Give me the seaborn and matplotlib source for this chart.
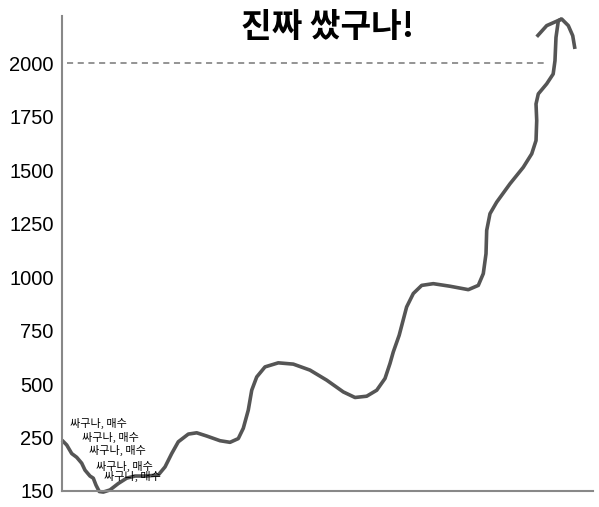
import numpy as np
import pandas as pd
import seaborn as sns
import matplotlib.pyplot as plt

# path of the price line, in drawing order (x = time index, y = price)
path_x = [0, 0.89, 1.83, 2.77, 3.71, 4.33, 5.27, 5.89, 6.40, 7.02, 7.78,
          9.04, 10.6, 12.18, 13.75, 15.95, 18.14, 19.4, 20.66, 21.9, 23.79,
          25.37, 27.25, 29.76, 31.64, 33.2, 34.14, 35.08, 35.73, 36.67, 38.23,
          40.73, 43.56, 46.7, 49.85, 52.98, 55.18, 57.38, 59.27, 60.83, 61.77,
          62.39, 63.5, 64.9, 66.16, 67.74, 69.92, 73.07, 76.52, 78.4, 79.34,
          79.85, 79.98, 80.6, 81.86, 84.37, 86.87, 88.46, 89.27, 89.4, 89.27,
          89.7, 91.28, 92.5, 92.84, 93.03, 93.47, 94.1, 95.35, 96.18, 96.6]
path_y = [245, 236, 220, 213, 202, 189, 178, 174, 161, 149, 148,
          152, 164, 174, 178, 178, 180, 195, 220, 242, 266,
          272, 257, 244, 241, 248, 293, 378, 471, 533, 580,
          599, 593, 565, 518, 463, 437, 443, 471, 526, 596,
          650, 728, 860, 923, 961, 969, 957, 941, 961, 1016,
          1109, 1218, 1296, 1350, 1436, 1513, 1576, 1638, 1731, 1809,
          1856, 1903, 1949, 2011, 2120, 2198, 2206, 2175, 2128, 2066]

# short hook at the top
hook_x = [94.1, 91.28, 89.4]
hook_y = [2206, 2175, 2123]

# "buy" notes
note_x = [1.5, 3.8, 5.1, 6.4, 7.9]
note_y = [317, 252, 226.5, 196.7, 178]
note_text = '싸구나, 매수'

target = 2000
target_x = [1, 91.5]

yticks = [150, 250, 500, 750, 1000, 1250, 1500, 1750, 2000]


def fwd(v):
    v = np.asarray(v, dtype=float)
    return np.where(v >= 250, v, (v - 150) * 2.5)


def inv(u):
    u = np.asarray(u, dtype=float)
    return np.where(u >= 250, u, u / 2.5 + 150)


sns.set_style('white')
plt.rcParams['font.family'] = ['Liberation Sans', 'Noto Sans CJK KR', 'DejaVu Sans']

fig = plt.figure(figsize=(5.99, 5.07), dpi=100)
ax = fig.add_axes([62 / 599, 1 - 491 / 507, (593 - 62) / 599, (491 - 16) / 507])
ax.set_yscale('function', functions=(fwd, inv))

df = pd.DataFrame({'x': path_x, 'y': path_y})
sns.lineplot(data=df, x='x', y='y', sort=False, estimator=None, ax=ax,
             color='#555555', linewidth=2.6, clip_on=False,
             solid_joinstyle='round', solid_capstyle='butt')
sns.lineplot(x=hook_x, y=hook_y, sort=False, estimator=None, ax=ax,
             color='#555555', linewidth=2.6, clip_on=False,
             solid_joinstyle='round', solid_capstyle='butt')

ax.hlines(target, target_x[0], target_x[1], colors='#777777',
          linestyles=(0, (4, 3)), linewidth=1.1)

for nx, ny in zip(note_x, note_y):
    ax.text(nx, ny, note_text, fontsize=8, va='center', ha='left',
            color='black', family=['Noto Sans CJK KR', 'DejaVu Sans'])

ax.set_xlim(0, 100)
ax.set_ylim(150, 2220)
ax.set_yticks(yticks)
ax.set_yticklabels([str(t) for t in yticks], fontsize=14.5, color='black')
ax.set_xticks([])
ax.tick_params(axis='y', length=0, pad=6)
ax.set_xlabel('')
ax.set_ylabel('')

for side in ['top', 'right']:
    ax.spines[side].set_visible(False)
for side in ['left', 'bottom']:
    ax.spines[side].set_color('#888888')
    ax.spines[side].set_linewidth(1.5)

ax.text(0.5, 1 - 12 / 475, '진짜 쌌구나!', transform=ax.transAxes,
        ha='center', va='center', fontsize=24, fontweight='bold',
        color='black', family=['Noto Sans CJK KR', 'DejaVu Sans'])

fig.savefig('out.png', dpi=100)
